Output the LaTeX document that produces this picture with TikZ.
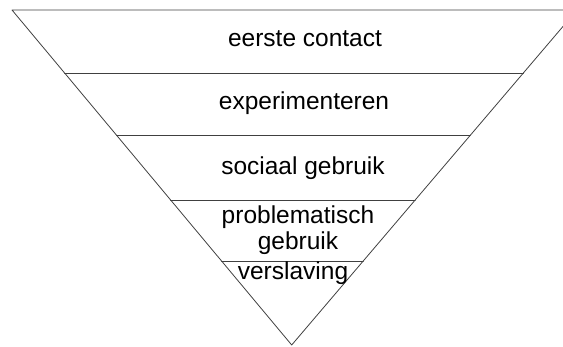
\documentclass[tikz,border=0pt]{standalone}
\usepackage{fontspec}
\setmainfont{Liberation Sans}
\usetikzlibrary{calc}

\begin{document}
\begin{tikzpicture}[line cap=round,line join=round,x=1pt,y=-1pt,
  fase/.style={anchor=base,align=center,font=\fontsize{24.5}{26}\selectfont}]

\useasboundingbox (0,0) rectangle (563,347);
\clip (0,0) rectangle (563,347);
\coordinate (tl) at (12,10);
\coordinate (tr) at (577,10);
\coordinate (apex) at (291.7,345);
\draw [color=black!75,line width=0.8pt] (tl)-- (tr)-- (apex)-- cycle;
%\draw (tl)-- (apex);
\foreach \t in {0.188,0.374,0.567,0.749}
  \draw [color=black!75,line width=0.8pt] ($(tl)!\t!(apex)$)-- ($(tr)!\t!(apex)$);

\node[fase] (contact) at (305,46.7) {eerste contact};
\node[fase] (experiment) at (304,109.3) {experimenteren};
\node[fase] (sociaal) at (303,175) {sociaal gebruik};
\node[fase] (probleem) at (298,249.3) {problematisch\\gebruik};
\node[fase] (verslaving) at (293,280) {verslaving};
\end{tikzpicture}
\end{document}
